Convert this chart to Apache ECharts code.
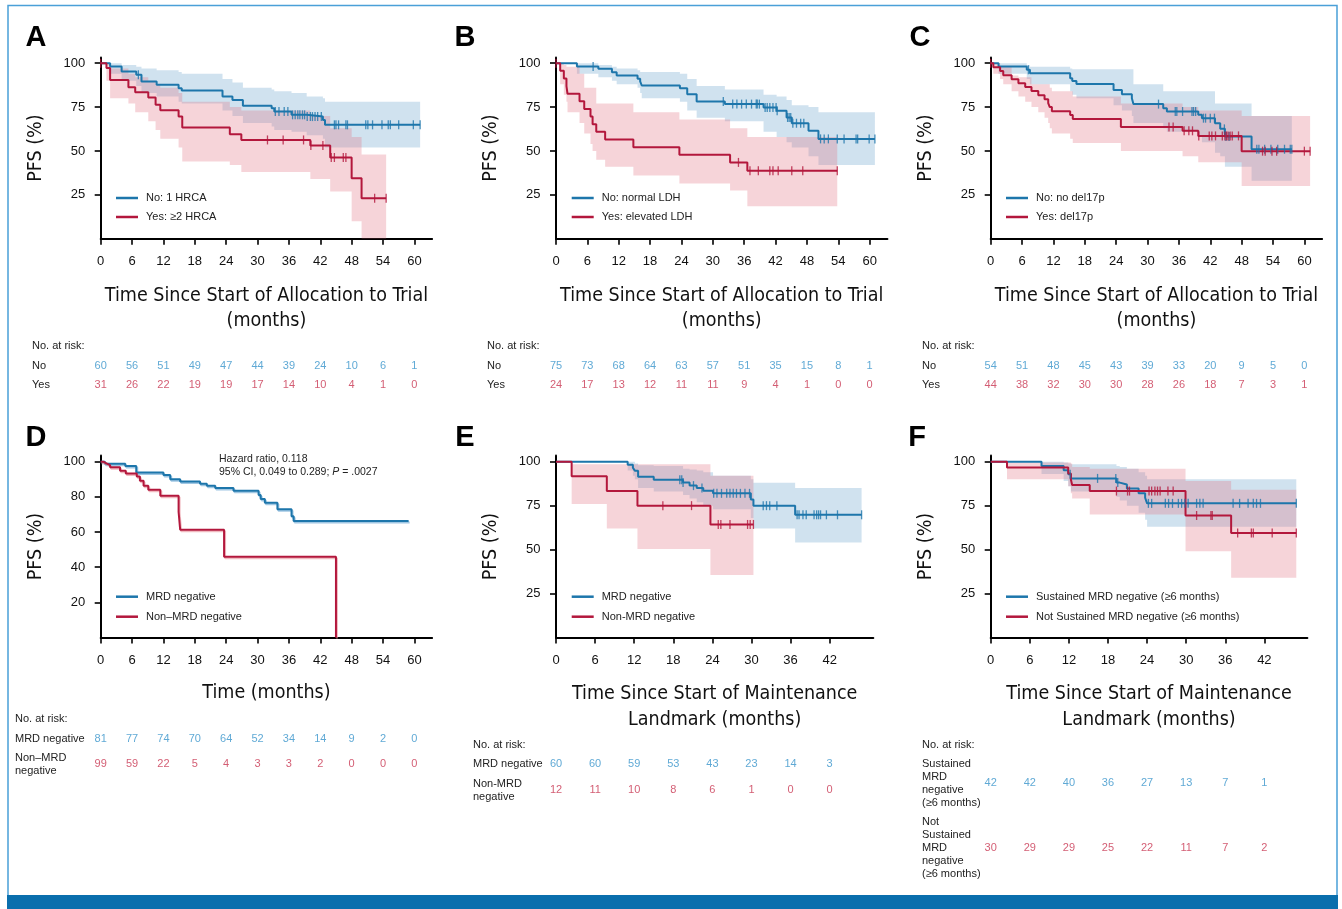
<!DOCTYPE html>
<html>
<head>
<meta charset="utf-8">
<title>PFS by risk group and MRD status</title>
<script src="https://cdn.jsdelivr.net/npm/echarts@6.0.0/dist/echarts.min.js"></script>
<style>
  html, body { margin: 0; padding: 0; background: #fff; }
  #chart { width: 1342px; height: 909px; }
</style>
</head>
<body>
<div id="chart"></div>
<script>
// ---------------- data ----------------
// step rows: [month, PFS %, CI low, CI high]; last row = end of follow-up
const ticks60 = [0, 6, 12, 18, 24, 30, 36, 42, 48, 54, 60];
const ticks42 = [0, 6, 12, 18, 24, 30, 36, 42];

// A: high-risk cytogenetic abnormalities
const aNo = [
  [0, 100, 100, 100], [1.8, 98.1, 94, 100], [4.0, 95.3, 90, 99], [6.8, 93.4, 87, 98],
  [7.8, 89.6, 83, 97], [10.7, 87.7, 81, 96], [14.9, 85.8, 78, 95], [15.5, 84.4, 77, 94],
  [23.3, 81.0, 73, 91], [25.2, 79.1, 70, 89], [27.2, 75.7, 66, 86], [32.7, 74.4, 64, 85],
  [33.2, 72.5, 62, 84], [36.5, 70.6, 61, 83], [39.4, 69.6, 59, 81], [42.5, 67.7, 57, 80],
  [42.9, 64.9, 52, 78], [61.1, 64.9, 52, 78]
];
const aNoCens = [7.2, 33.4, 34.1, 35.1, 35.8, 36.7, 37.2, 37.7, 38.1, 38.6, 39.0, 39.5, 40.1, 40.5,
  41.0, 41.5, 42.2, 44.7, 45.0, 45.5, 46.9, 47.2, 50.7, 51.1, 52.0, 53.8, 55.0, 55.4, 57.0, 59.8, 61.1];
const aYes = [
  [0, 100, 100, 100], [1.1, 97.2, 90, 100], [1.8, 90.5, 80, 97], [5.3, 86.3, 77, 94],
  [6.6, 83.5, 72, 92], [9.1, 80.4, 67, 90], [10.5, 76.3, 62, 88], [11.4, 73.2, 57, 86],
  [14.9, 69.6, 52, 83], [15.6, 63.4, 44, 78], [24.7, 59.6, 42, 75], [26.9, 56.3, 38, 73],
  [40.1, 53.1, 34, 70], [43.9, 46.3, 27, 63], [48.0, 34.5, 10, 58], [49.9, 23.1, 0, 48],
  [54.6, 23.1, 0, 48]
];
const aYesCens = [0, 31.9, 34.9, 38.8, 40.2, 42.5, 44.1, 44.7, 46.4, 46.9, 52.4, 54.6];
const aRiskNo = [60, 56, 51, 49, 47, 44, 39, 24, 10, 6, 1];
const aRiskYes = [31, 26, 22, 19, 19, 17, 14, 10, 4, 1, 0];

// B: LDH
const bNo = [
  [0, 100, 100, 100], [4.0, 98.1, 94, 100], [8.1, 96.8, 92, 99], [10.7, 94.9, 90, 98],
  [11.6, 93.0, 88, 97], [15.6, 91.1, 86, 96], [16.1, 89.6, 83, 95], [16.4, 87.3, 80, 95],
  [23.7, 85.8, 78, 94], [25.1, 82.3, 73, 91], [26.9, 78.2, 69, 87], [32.3, 76.7, 67, 85],
  [39.7, 74.8, 61, 82], [42.2, 72.9, 58, 81], [44.1, 69.1, 55, 79], [45.1, 65.8, 52, 76],
  [48.3, 61.5, 47, 75], [50.2, 56.9, 42, 72], [61.0, 56.9, 42, 72]
];
const bNoCens = [7.1, 32.0, 33.8, 34.6, 35.5, 36.4, 37.4, 38.3, 38.5, 38.9, 40.0, 40.4, 40.9, 41.5,
  42.1, 42.3, 44.3, 44.6, 44.9, 45.3, 46.0, 46.8, 47.4, 50.6, 51.3, 52.1, 53.8, 55.1, 57.4, 57.7, 59.9, 61.0];
const bYes = [
  [0, 100, 100, 100], [0.8, 95.7, 88, 100], [1.5, 91.3, 82, 99], [2.0, 87.0, 78, 98],
  [2.2, 82.6, 72, 98], [4.5, 78.3, 66, 94], [5.4, 73.9, 60, 86], [6.6, 69.6, 54, 86],
  [7.0, 65.2, 50, 86], [7.7, 60.9, 45, 77], [9.4, 56.5, 41, 77], [14.8, 52.2, 36, 72],
  [23.6, 47.8, 31.5, 68], [33.3, 43.5, 27.5, 63], [36.6, 38.7, 18.5, 58], [53.8, 38.7, 18.5, 58]
];
const bYesCens = [0, 34.9, 37.1, 38.7, 40.9, 41.5, 42.5, 45.1, 47.2, 53.8];
const bRiskNo = [75, 73, 68, 64, 63, 57, 51, 35, 15, 8, 1];
const bRiskYes = [24, 17, 13, 12, 11, 11, 9, 4, 1, 0, 0];

// C: del17p
const cNo = [
  [0, 100, 100, 100], [1.5, 98.1, 94, 100], [6.9, 96.2, 91, 99], [7.5, 94.3, 88, 98],
  [15.2, 91.5, 84, 97], [15.6, 89.9, 82, 96.6], [16.4, 88.2, 80, 96.6], [23.5, 84.8, 76, 96.6],
  [25.1, 82.3, 73, 96.6], [27.0, 80.1, 70, 96.6], [27.3, 76.7, 66, 88], [33.0, 74.4, 63, 84],
  [33.7, 72.5, 61, 84], [39.7, 70.6, 58, 84], [40.4, 68.7, 55, 84], [42.9, 65.8, 49, 77],
  [43.9, 62.6, 47, 77], [44.8, 58.2, 41, 77], [49.9, 51.0, 33, 70], [57.6, 51.0, 33, 70]
];
const cNoCens = [7.2, 32.1, 35.3, 35.6, 36.7, 38.5, 38.8, 39.2, 40.7, 41.1, 42.0, 42.8, 44.7, 45.0,
  45.6, 50.9, 51.3, 52.4, 53.6, 54.9, 56.2, 57.3, 57.6];
const cYes = [
  [0, 100, 100, 100], [0.5, 97.7, 94, 100], [1.8, 95.5, 91, 98], [2.4, 93.2, 88, 98],
  [4.0, 90.9, 84, 93], [5.3, 88.6, 81, 92], [6.6, 86.4, 78, 92], [7.8, 84.1, 75, 88],
  [9.1, 81.8, 72, 88], [10.3, 79.5, 69, 88], [11.0, 77.3, 66, 88], [11.3, 75.0, 63, 86],
  [11.7, 72.7, 60, 84], [15.2, 70.5, 57, 84], [15.7, 68.2, 54.5, 81], [24.9, 63.6, 50, 77],
  [36.7, 61.5, 47, 75], [39.7, 58.6, 43.6, 73], [48.0, 49.9, 30, 70], [61.1, 49.9, 30, 70]
];
const cYesCens = [0, 34.1, 34.9, 37.0, 37.9, 38.6, 39.8, 41.8, 42.3, 43.0, 44.3, 44.8, 45.1, 45.4,
  45.8, 46.2, 47.4, 52.0, 52.5, 53.8, 54.7, 60.0, 61.1];
const cRiskNo = [54, 51, 48, 45, 43, 39, 33, 20, 9, 5, 0];
const cRiskYes = [44, 38, 32, 30, 30, 28, 26, 18, 7, 3, 1];

// D: MRD status, whole period (no CI drawn)
const dNeg = [
  [0, 100], [0.8, 98.8], [4.7, 97.5], [6.8, 93.8], [12.0, 92.5], [13.3, 90.0], [15.2, 88.8],
  [19.0, 87.5], [20.3, 86.3], [21.9, 85.0], [25.4, 83.5], [30.2, 81.0], [30.6, 78.8],
  [31.4, 76.7], [33.8, 73.0], [36.5, 69.0], [36.9, 66.2], [58.9, 66.2]
];
const dNon = [
  [0, 100], [0.5, 99.0], [1.1, 98.0], [1.8, 96.8], [3.7, 94.8], [4.8, 93.3], [6.9, 91.6],
  [7.5, 89.2], [8.2, 86.3], [9.1, 84.1], [11.4, 80.6], [14.9, 71.5], [15.2, 61.3],
  [23.6, 46.0], [45.0, 0]
];
const dRiskNeg = [81, 77, 74, 70, 64, 52, 34, 14, 9, 2, 0];
const dRiskNon = [99, 59, 22, 5, 4, 3, 3, 2, 0, 0, 0];

// E: MRD status at maintenance landmark
const eNeg = [
  [0, 100, 100, 100], [11.0, 98.3, 95, 100], [11.8, 96.6, 92, 100], [12.1, 94.9, 90, 99],
  [12.6, 91.5, 85, 98], [15.0, 89.8, 83, 97.5], [19.5, 88.1, 81, 96], [20.5, 86.4, 79, 95.5],
  [21.6, 85.0, 77, 95], [22.6, 83.5, 75, 94], [24.1, 82.0, 73, 92], [29.9, 78.5, 68, 90],
  [30.3, 75.0, 62, 88], [36.7, 69.8, 54, 85], [46.9, 69.8, 54, 85]
];
const eNegCens = [19.0, 19.3, 19.5, 21.1, 22.4, 24.2, 24.7, 25.4, 26.2, 26.7, 27.2, 27.7, 28.3, 29.0,
  29.7, 31.8, 32.3, 32.8, 33.9, 37.0, 37.3, 37.9, 38.4, 39.6, 40.0, 40.3, 40.6, 41.5, 43.2, 46.9];
const eNon = [
  [0, 100, 100, 100], [2.4, 91.7, 76, 98.5], [7.8, 83.3, 62, 98.5], [12.5, 75.0, 50.4, 98.5],
  [23.7, 64.3, 35.6, 92], [30.3, 64.3, 35.6, 92]
];
const eNonCens = [16.4, 20.8, 24.9, 25.3, 26.7, 29.4, 29.8, 30.3];
const eRiskNeg = [60, 60, 59, 53, 43, 23, 14, 3];
const eRiskNon = [12, 11, 10, 8, 6, 1, 0, 0];

// F: sustained MRD negativity
const fSus = [
  [0, 100, 100, 100], [7.8, 97.6, 93, 100], [11.2, 95.2, 89, 99.5], [11.9, 92.9, 86, 99],
  [12.3, 90.5, 83, 98.5], [19.3, 88.1, 80, 97.5], [19.8, 87.0, 78, 97], [20.9, 84.8, 75, 96],
  [22.7, 82.0, 71, 94], [23.7, 79.5, 67, 92], [24.0, 76.3, 63, 90], [46.9, 76.3, 63, 90]
];
const fSusCens = [12.2, 16.4, 19.2, 19.5, 24.2, 24.7, 26.8, 27.3, 27.9, 28.8, 29.3, 29.8, 30.3, 31.6,
  32.1, 32.6, 37.2, 38.2, 39.5, 40.3, 40.8, 41.4, 46.9];
const fNot = [
  [0, 100, 100, 100], [2.5, 96.7, 90, 99.5], [11.9, 93.3, 86, 99.5], [12.3, 90.0, 82, 99],
  [12.5, 86.7, 79, 97], [15.2, 83.3, 70, 96], [29.9, 69.4, 49, 89], [36.9, 59.5, 34, 84],
  [46.9, 59.5, 34, 84]
];
const fNotCens = [19.3, 21.0, 21.3, 24.3, 24.7, 25.2, 25.6, 26.0, 27.2, 28.0, 31.6, 33.8, 34.0, 37.9,
  40.0, 40.3, 43.2, 46.9];
const fRiskSus = [42, 42, 40, 36, 27, 13, 7, 1];
const fRiskNot = [30, 29, 29, 25, 22, 11, 7, 2];

// ---------------- styling ----------------
const BLUE = '#1d76ab', RED = '#b3173c';
const BLUE_TXT = '#3794cb', RED_TXT = '#c83550';
const BLUE_BAND = 'rgba(118,170,208,0.34)', RED_BAND = 'rgba(226,112,128,0.3)';
const SANS = '"Liberation Sans", Arial, sans-serif';
const COND = '"DejaVu Sans Condensed", "Liberation Sans", sans-serif';
const TITLE_ALLOC = 'Time Since Start of Allocation to Trial\n(months)';
const TITLE_MAINT = 'Time Since Start of Maintenance\nLandmark (months)';

// pixel layout of each panel (x0/y0 = where month 0 / PFS 0 sit)
const panels = [
  { letter: 'A', lx: 36, ly: 38, x0: 100.7, y0: 238.8, pxX: 5.228, pxY: 1.756, xmax: 63.4, ymax: 103.3,
    xTicks: ticks60, yTicks: [25, 50, 75, 100], xName: TITLE_ALLOC, nameGap: 44.7, nameLH: 25,
    legX: 116, legY: 191, legGap: 5, riskX: 32, riskTitleY: 346, rowY: [366, 385],
    groups: [
      { name: 'No: 1 HRCA', steps: aNo, cens: aNoCens, risk: aRiskNo, row: 'No' },
      { name: 'Yes: \u22652 HRCA', steps: aYes, cens: aYesCens, risk: aRiskYes, row: 'Yes' }] },
  { letter: 'B', lx: 465, ly: 38, x0: 556, y0: 238.8, pxX: 5.228, pxY: 1.756, xmax: 63.4, ymax: 103.3,
    xTicks: ticks60, yTicks: [25, 50, 75, 100], xName: TITLE_ALLOC, nameGap: 44.7, nameLH: 25,
    legX: 571.7, legY: 191, legGap: 5, riskX: 487, riskTitleY: 346, rowY: [366, 385],
    groups: [
      { name: 'No: normal LDH', steps: bNo, cens: bNoCens, risk: bRiskNo, row: 'No' },
      { name: 'Yes: elevated LDH', steps: bYes, cens: bYesCens, risk: bRiskYes, row: 'Yes' }] },
  { letter: 'C', lx: 920, ly: 38, x0: 990.7, y0: 238.8, pxX: 5.228, pxY: 1.756, xmax: 63.4, ymax: 103.3,
    xTicks: ticks60, yTicks: [25, 50, 75, 100], xName: TITLE_ALLOC, nameGap: 44.7, nameLH: 25,
    legX: 1006, legY: 191, legGap: 5, riskX: 922, riskTitleY: 346, rowY: [366, 385],
    groups: [
      { name: 'No: no del17p', steps: cNo, cens: cNoCens, risk: cRiskNo, row: 'No' },
      { name: 'Yes: del17p', steps: cYes, cens: cYesCens, risk: cRiskYes, row: 'Yes' }] },
  { letter: 'D', lx: 36, ly: 438, x0: 100.7, y0: 637.5, pxX: 5.228, pxY: 1.758, xmax: 63.4, ymax: 103.5,
    xTicks: ticks60, yTicks: [20, 40, 60, 80, 100], xName: 'Time (months)', nameGap: 43.3, nameLH: 25,
    legX: 116, legY: 589.7, legGap: 6, riskX: 15, riskTitleY: 719, rowY: [739, 764], shadow: true,
    groups: [
      { name: 'MRD negative', steps: dNeg, cens: [], risk: dRiskNeg, row: 'MRD negative' },
      { name: 'Non\u2013MRD negative', steps: dNon, cens: [], risk: dRiskNon, row: 'Non\u2013MRD\nnegative' }] },
  { letter: 'E', lx: 465, ly: 438, x0: 556, y0: 637.5, pxX: 6.516, pxY: 1.758, xmax: 48.7, ymax: 103.5,
    xTicks: ticks42, yTicks: [25, 50, 75, 100], xName: TITLE_MAINT, nameGap: 43.8, nameLH: 26,
    legX: 571.7, legY: 589.7, legGap: 6, riskX: 473, riskTitleY: 745, rowY: [764, 790],
    groups: [
      { name: 'MRD negative', steps: eNeg, cens: eNegCens, risk: eRiskNeg, row: 'MRD negative' },
      { name: 'Non-MRD negative', steps: eNon, cens: eNonCens, risk: eRiskNon, row: 'Non-MRD\nnegative' }] },
  { letter: 'F', lx: 917, ly: 438, x0: 990.7, y0: 637.5, pxX: 6.516, pxY: 1.758, xmax: 48.6, ymax: 103.5,
    xTicks: ticks42, yTicks: [25, 50, 75, 100], xName: TITLE_MAINT, nameGap: 43.8, nameLH: 26,
    legX: 1006, legY: 589.7, legGap: 6, riskX: 922, riskTitleY: 745, rowY: [783, 848],
    groups: [
      { name: 'Sustained MRD negative (\u22656 months)', steps: fSus, cens: fSusCens, risk: fRiskSus,
        row: 'Sustained\nMRD\nnegative\n(\u22656 months)' },
      { name: 'Not Sustained MRD negative (\u22656 months)', steps: fNot, cens: fNotCens, risk: fRiskNot,
        row: 'Not\nSustained\nMRD\nnegative\n(\u22656 months)' }] }
];

// KM value at time t (for placing censor marks on the curve)
function survAt(steps, t) {
  let s = steps[0][1];
  for (const r of steps) {
    if (r[0] <= t) s = r[1]; else break;
  }
  return s;
}

// CI band as one step-shaped polygon, placed with the axis scales
function bandSeries(steps, axisIdx, fill) {
  return {
    type: 'custom', xAxisIndex: axisIdx, yAxisIndex: axisIdx, silent: true, z: 1, clip: true,
    data: steps.map(s => [s[0], s[2], s[3]]),
    encode: { x: 0, y: [1, 2] },
    renderItem: (params, api) => {
      if (params.dataIndex !== 0) return null;
      const top = [], bottom = [];
      for (let i = 0; i < steps.length - 1; i++) {
        const t0 = steps[i][0], t1 = steps[i + 1][0];
        top.push(api.coord([t0, steps[i][3]]), api.coord([t1, steps[i][3]]));
        bottom.push(api.coord([t0, steps[i][2]]), api.coord([t1, steps[i][2]]));
      }
      return { type: 'polygon', shape: { points: top.concat(bottom.reverse()) }, style: { fill } };
    }
  };
}

const option = {
  animation: false,
  backgroundColor: '#fff',
  grid: [], xAxis: [], yAxis: [], series: [], legend: [],
  graphic: { elements: [] }
};

panels.forEach((p, i) => {
  const g = i * 2, r = i * 2 + 1;
  const width = p.xmax * p.pxX;

  option.grid.push({ left: p.x0, top: p.y0 - p.ymax * p.pxY, width, height: p.ymax * p.pxY, outerBoundsMode: 'none' });
  option.grid.push({ left: p.x0, top: p.rowY[0], width, height: p.rowY[1] - p.rowY[0], outerBoundsMode: 'none' });

  option.xAxis.push({
    gridIndex: g, type: 'value', min: 0, max: p.xmax,
    axisLine: { show: true, lineStyle: { color: '#000', width: 2 } },
    axisTick: { show: true, customValues: p.xTicks, length: 6, lineStyle: { color: '#000', width: 1.6 } },
    axisLabel: { customValues: p.xTicks, margin: 16, fontSize: 13, color: '#111', fontFamily: SANS },
    splitLine: { show: false },
    name: p.xName, nameLocation: 'middle', nameGap: p.nameGap, nameMoveOverlap: false,
    nameTextStyle: { fontSize: 19.5, lineHeight: p.nameLH, color: '#111', fontFamily: COND }
  });
  option.yAxis.push({
    gridIndex: g, type: 'value', min: 0, max: p.ymax,
    axisLine: { show: true, lineStyle: { color: '#000', width: 2 } },
    axisTick: { show: true, customValues: p.yTicks, length: 6, lineStyle: { color: '#000', width: 1.6 } },
    axisLabel: { customValues: p.yTicks, margin: 15.5, fontSize: 13, color: '#111', fontFamily: SANS },
    splitLine: { show: false },
    name: 'PFS (%)', nameLocation: 'middle', nameRotate: 90, nameGap: 55, nameMoveOverlap: false,
    nameTextStyle: { fontSize: 19.5, color: '#111', fontFamily: COND }
  });

  // number-at-risk table shares the month scale
  option.xAxis.push({ gridIndex: r, type: 'value', min: 0, max: p.xmax, show: false });
  option.yAxis.push({
    gridIndex: r, type: 'value', min: 0, max: 1, inverse: true,
    axisLine: { show: false }, axisTick: { show: false }, splitLine: { show: false },
    axisLabel: {
      customValues: [0, 1], formatter: v => p.groups[Math.round(v)].row,
      align: 'left', margin: p.x0 - p.riskX, fontSize: 11, lineHeight: 13, color: '#222', fontFamily: SANS
    }
  });

  p.groups.forEach((grp, k) => {
    const color = k === 0 ? BLUE : RED;

    if (grp.steps[0].length > 2) {
      option.series.push(bandSeries(grp.steps, g, k === 0 ? BLUE_BAND : RED_BAND));
    }

    const lineStyle = { color, width: 2 };
    if (p.shadow) {
      Object.assign(lineStyle, {
        shadowColor: k === 0 ? 'rgba(120,175,215,0.7)' : 'rgba(230,140,150,0.6)',
        shadowOffsetX: 1, shadowOffsetY: 1.5, shadowBlur: 0
      });
    }
    option.series.push({
      name: grp.name, type: 'line', xAxisIndex: g, yAxisIndex: g, step: 'end', symbol: 'none', z: 3,
      itemStyle: { color }, lineStyle,
      data: grp.steps.map(s => [s[0], s[1]])
    });

    if (grp.cens.length) {
      option.series.push({
        type: 'scatter', xAxisIndex: g, yAxisIndex: g, symbol: 'rect', symbolSize: [1.3, 9], z: 4, silent: true,
        itemStyle: { color },
        data: grp.cens.map(t => [t, survAt(grp.steps, t)])
      });
    }

    option.series.push({
      type: 'scatter', xAxisIndex: r, yAxisIndex: r, symbolSize: 1, silent: true,
      itemStyle: { color: 'rgba(0,0,0,0)' },
      label: {
        show: true, position: 'inside', formatter: d => d.value[2],
        fontSize: 11, color: k === 0 ? BLUE_TXT : RED_TXT, fontFamily: SANS
      },
      data: grp.risk.map((n, j) => [p.xTicks[j], k, n])
    });
  });

  option.legend.push({
    data: p.groups.map(grp => grp.name), orient: 'vertical', left: p.legX, top: p.legY,
    itemWidth: 22, itemHeight: 2.5, itemGap: p.legGap, icon: 'rect', selectedMode: false, padding: 0,
    textStyle: { fontSize: 11, lineHeight: 14, color: '#222', fontFamily: SANS, padding: [0, 0, 0, 3] }
  });

  option.graphic.elements.push(
    { type: 'text', x: p.lx, y: p.ly, style: { text: p.letter, font: 'bold 29px ' + SANS, fill: '#000', align: 'center', verticalAlign: 'middle' } },
    { type: 'text', x: p.riskX, y: p.riskTitleY, style: { text: 'No. at risk:', font: '11px ' + SANS, fill: '#222', align: 'left', verticalAlign: 'middle' } }
  );
});

// hazard ratio note in panel D
option.graphic.elements.push(
  { type: 'text', x: 219, y: 459, style: { text: 'Hazard ratio, 0.118', font: '10.5px ' + SANS, fill: '#222', verticalAlign: 'middle' } },
  { type: 'text', x: 219, y: 472, style: {
      text: '95% CI, 0.049 to 0.289; {i|P} = .0027', font: '10.5px ' + SANS, fill: '#222', verticalAlign: 'middle',
      rich: { i: { fontStyle: 'italic', fontSize: 10.5, fontFamily: SANS, fill: '#222' } } } }
);

// journal frame
option.graphic.elements.push(
  { type: 'rect', shape: { x: 8, y: 5.5, width: 1329, height: 892 }, style: { fill: 'none', stroke: '#4aa0d8', lineWidth: 1.5 }, silent: true },
  { type: 'rect', shape: { x: 7, y: 895, width: 1331, height: 14 }, style: { fill: '#0a6fad' }, silent: true }
);

const chart = echarts.init(document.getElementById('chart'), null, { renderer: 'canvas' });
chart.setOption(option);
</script>
</body>
</html>
